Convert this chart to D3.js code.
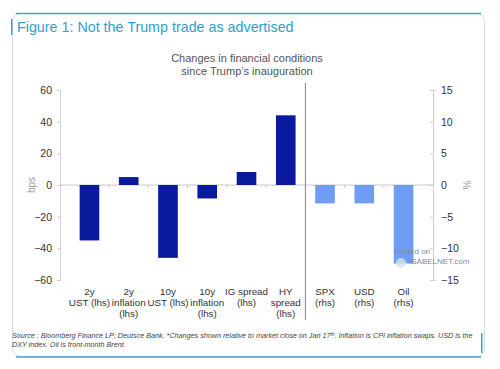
<!DOCTYPE html>
<html>
<head>
<meta charset="utf-8">
<script src="https://cdn.jsdelivr.net/npm/d3@7"></script>
<style>
  body { margin: 0; background: #fff; font-family: "Liberation Sans", Arial, sans-serif; }
</style>
</head>
<body>
<svg id="chart"></svg>
<script>
// categories and values
const leftCats = ["2y\nUST (lhs)", "2y\ninflation\n(lhs)", "10y\nUST (lhs)", "10y\ninflation\n(lhs)", "IG spread\n(lhs)", "HY\nspread\n(lhs)"];
const leftValues = [-35, 5, -46, -8.5, 8.2, 44];
const rightCats = ["SPX\n(rhs)", "USD\n(rhs)", "Oil\n(rhs)"];
const rightValues = [-2.9, -2.9, -12.4];
const leftTicks = [60, 40, 20, 0, -20, -40, -60];
const rightTicks = [15, 10, 5, 0, -5, -10, -15];

const w = 500, h = 369;
const svg = d3.select('#chart').attr('width', w).attr('height', h);

// card frame
svg.append('rect')
  .attr('x', 12.5).attr('y', 13.5).attr('width', 472).attr('height', 343)
  .attr('rx', 8).attr('fill', '#fff').attr('stroke', '#dcdcdc');
svg.append('line').attr('x1', 16).attr('x2', 481).attr('y1', 13.5).attr('y2', 13.5)
  .attr('stroke', '#3aa6d4').attr('stroke-width', 1.5);
svg.append('line').attr('x1', 16).attr('x2', 481).attr('y1', 357).attr('y2', 357)
  .attr('stroke', '#3aa6d4').attr('stroke-width', 1.5);
svg.append('rect').attr('x', 11).attr('y', 19).attr('width', 1.5).attr('height', 16).attr('fill', '#3aa6d4');
svg.append('rect').attr('x', 481).attr('y', 333).attr('width', 1.5).attr('height', 20).attr('fill', '#3aa6d4');

svg.append('text')
  .attr('x', 17).attr('y', 32)
  .attr('fill', '#2f9fd0').style('font-size', '14.3px')
  .text('Figure 1: Not the Trump trade as advertised');

// chart title
const title = svg.append('text').attr('text-anchor', 'middle').attr('fill', '#555').style('font-size', '11px');
title.append('tspan').attr('x', 247).attr('y', 62).text('Changes in financial conditions');
title.append('tspan').attr('x', 247).attr('y', 75).text('since Trump\u2019s inauguration');

// scales
const x0 = 60, x1 = 433;
const allCats = leftCats.concat(rightCats);
const xScale = d3.scaleBand().domain(allCats).range([x0, x1]).padding(0.5);
const yLeft = d3.scaleLinear().domain([-60, 60]).range([280, 90]);
const yRight = d3.scaleLinear().domain([-15, 15]).range([280, 90]);
const step = xScale.step();

// axes
const gl = svg.append('g').attr('transform', `translate(${x0},0)`)
  .call(d3.axisLeft(yLeft).tickValues(leftTicks).tickSize(3).tickPadding(5));
const gr = svg.append('g').attr('transform', `translate(${x1},0)`)
  .call(d3.axisRight(yRight).tickValues(rightTicks).tickSize(3).tickPadding(5));
[gl, gr].forEach(g => {
  g.select('.domain').attr('stroke', '#d0d0d0');
  g.selectAll('.tick line').attr('stroke', '#ccc');
  g.selectAll('.tick text').attr('fill', '#333').style('font-size', '10.5px')
    .style('font-family', '"Liberation Sans", Arial, sans-serif');
});
gr.selectAll('.tick line').attr('x2', -3);

// zero line with small separators between categories
svg.append('line').attr('x1', x0).attr('x2', x1)
  .attr('y1', yLeft(0)).attr('y2', yLeft(0)).attr('stroke', '#c8c8c8');
svg.selectAll('.sep').data(d3.range(1, allCats.length))
  .join('line')
  .attr('x1', i => xScale(allCats[i]) - step * 0.25)
  .attr('x2', i => xScale(allCats[i]) - step * 0.25)
  .attr('y1', yLeft(0)).attr('y2', yLeft(0) + 3)
  .attr('stroke', '#c8c8c8');

// divider between lhs and rhs groups
const divX = xScale(rightCats[0]) - step * 0.25;
svg.append('line').attr('x1', divX).attr('x2', divX).attr('y1', 83).attr('y2', 320)
  .attr('stroke', '#888').attr('stroke-width', 1);

// bars
svg.selectAll('.barL').data(leftValues).join('rect')
  .attr('x', (d, i) => xScale(leftCats[i]))
  .attr('y', d => yLeft(Math.max(0, d)))
  .attr('width', xScale.bandwidth())
  .attr('height', d => Math.abs(yLeft(d) - yLeft(0)))
  .attr('fill', '#0a1a9c');
svg.selectAll('.barR').data(rightValues).join('rect')
  .attr('x', (d, i) => xScale(rightCats[i]))
  .attr('y', d => yRight(Math.max(0, d)))
  .attr('width', xScale.bandwidth())
  .attr('height', d => Math.abs(yRight(d) - yRight(0)))
  .attr('fill', '#6f9cf4');

// category labels
allCats.forEach(c => {
  const t = svg.append('text').attr('text-anchor', 'middle').attr('fill', '#333')
    .style('font-size', '9.8px').style('font-family', 'Arimo, "Liberation Sans", Arial, sans-serif');
  c.split('\n').forEach((line, k) => {
    t.append('tspan').attr('x', xScale(c) + xScale.bandwidth() / 2).attr('y', 295 + k * 10.8).text(line);
  });
});

// axis titles
svg.append('text').attr('transform', `translate(35,${yLeft(0)}) rotate(-90)`)
  .attr('text-anchor', 'middle').attr('fill', '#999').style('font-size', '10px').text('bps');
svg.append('text').attr('transform', `translate(463,${yLeft(0)}) rotate(90)`)
  .attr('text-anchor', 'middle').attr('fill', '#999').style('font-size', '10px').text('%');

// watermark
svg.append('circle').attr('cx', 401).attr('cy', 263).attr('r', 5).attr('fill', '#cfe3ea').attr('opacity', 0.8);
svg.append('text').attr('x', 394).attr('y', 254).attr('fill', '#7f8c93').style('font-size', '8px')
  .text('Posted on');
svg.append('text').attr('x', 409).attr('y', 264).attr('fill', '#7f8c93').style('font-size', '8px')
  .text('ISABELNET.com');

// source note
const src = svg.append('text').attr('fill', '#444').style('font-size', '7.2px').style('font-style', 'italic');
const l1 = src.append('tspan').attr('x', 12).attr('y', 338);
l1.append('tspan').text('Source : Bloomberg Finance LP; Deutsce Bank. *Changes shown relative to market close on Jan 17');
l1.append('tspan').attr('dy', -2.5).style('font-size', '5px').text('th');
l1.append('tspan').attr('dy', 2.5).text('. Inflation is CPI inflation swaps. USD is the');
src.append('tspan').attr('x', 12).attr('y', 347).text('DXY index. Oil is front-month Brent.');
</script>
</body>
</html>
